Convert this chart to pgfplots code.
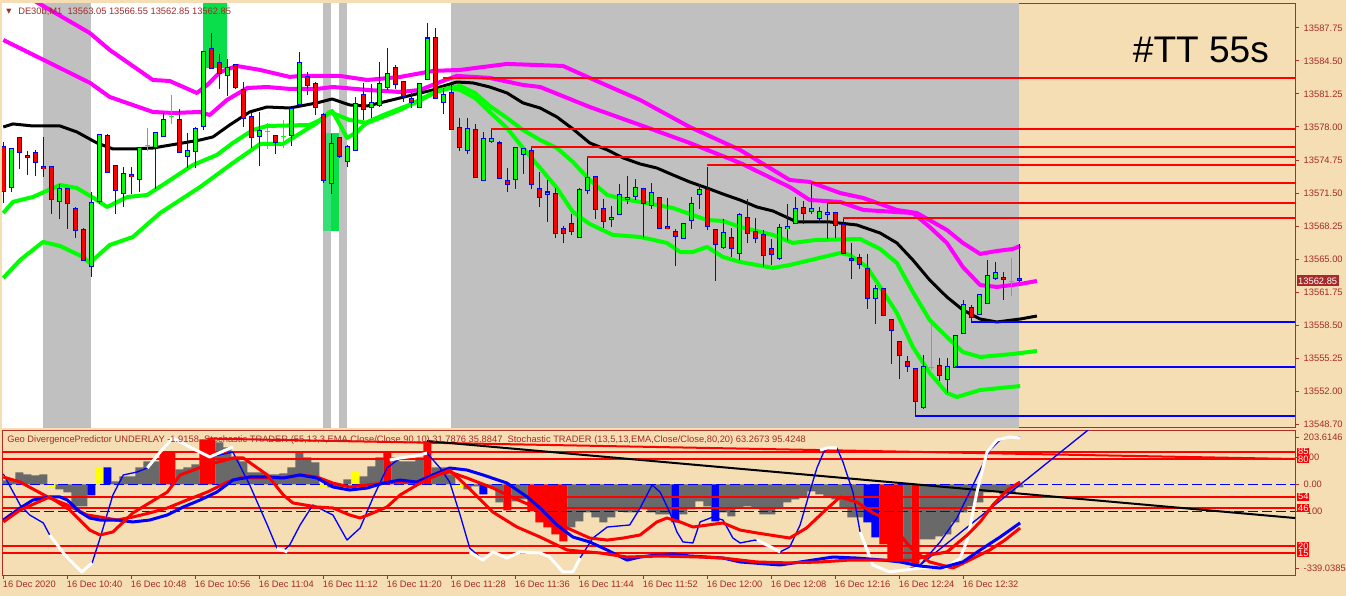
\documentclass[border=0pt]{standalone}
\usepackage{fontspec}
\setmainfont{Liberation Sans}
\newfontfamily\dejavu{DejaVu Sans}
\usepackage{pgfplots}
\pgfplotsset{compat=1.18}
\usepackage{pgfplotstable}
\definecolor{wheatc}{HTML}{F5DEB3}
\definecolor{sessgray}{HTML}{C0C0C0}
\definecolor{limec}{HTML}{00FF00}
\definecolor{mag}{HTML}{FF00FF}
\definecolor{hgray}{HTML}{696969}
\definecolor{framec}{RGB}{175,45,35}
\definecolor{labc}{RGB}{165,42,42}
\definecolor{zoneg}{HTML}{0ADE4B}
\definecolor{zoneg2}{HTML}{38DF78}
\definecolor{yelc}{HTML}{FFFF00}
\definecolor{bluec}{HTML}{0000FF}
\definecolor{redc}{HTML}{FF0000}

\pgfplotstableread{
i o h l c
0 13576.23 13576.53 13570.52 13571.80
1 13572.19 13576.03 13571.70 13576.03
2 13577.02 13577.02 13573.96 13575.54
3 13575.25 13575.84 13573.47 13575.05
4 13575.54 13575.84 13573.28 13574.56
5 13574.26 13577.02 13573.08 13574.06
6 13574.26 13574.26 13569.53 13571.01
7 13570.81 13572.49 13569.04 13572.09
8 13571.99 13572.09 13568.06 13570.52
9 13570.02 13570.12 13567.07 13567.86
10 13568.06 13568.15 13564.90 13565.00
11 13564.21 13571.60 13563.23 13570.52
12 13570.81 13577.41 13570.52 13577.41
13 13577.21 13577.41 13573.57 13573.57
14 13574.26 13574.26 13569.53 13571.80
15 13571.50 13574.06 13570.12 13573.47
16 13573.28 13574.16 13571.50 13573.08
17 13572.88 13576.03 13571.60 13576.03
18 13576.13 13578.00 13575.74 13576.13
19 13576.03 13577.51 13571.99 13577.51
20 13577.02 13579.38 13577.02 13578.79
21 13578.99 13581.25 13578.40 13578.99
22 13578.79 13579.87 13575.54 13575.54
23 13575.25 13577.51 13574.06 13575.84
24 13575.54 13578.10 13574.06 13577.81
25 13578.00 13585.39 13577.71 13585.39
26 13585.78 13587.26 13583.81 13583.81
27 13584.50 13585.29 13581.84 13583.42
28 13583.22 13584.80 13581.15 13584.01
29 13584.21 13584.21 13581.84 13581.94
30 13581.84 13582.43 13578.00 13578.99
31 13579.18 13579.48 13576.03 13577.02
32 13577.21 13579.48 13574.16 13577.81
33 13577.51 13578.40 13575.84 13577.51
34 13577.21 13577.21 13575.44 13576.53
35 13577.02 13578.79 13576.03 13577.02
36 13577.21 13579.97 13576.23 13579.87
37 13580.27 13585.49 13580.27 13584.40
38 13582.93 13583.52 13581.25 13582.04
39 13582.24 13582.43 13579.18 13579.97
40 13579.38 13579.38 13572.49 13572.88
41 13572.49 13577.41 13571.50 13576.43
42 13577.02 13577.02 13575.05 13575.15
43 13574.56 13576.23 13574.06 13576.03
44 13575.84 13581.06 13575.84 13580.46
45 13581.25 13582.43 13578.79 13579.78
46 13579.97 13582.34 13578.99 13580.46
47 13580.27 13584.40 13579.97 13582.43
48 13582.04 13585.78 13581.65 13583.42
49 13583.91 13584.21 13581.84 13582.24
50 13582.43 13582.43 13580.46 13580.96
51 13580.86 13581.45 13579.97 13580.46
52 13579.97 13582.43 13579.97 13582.43
53 13582.83 13588.25 13582.83 13586.96
54 13586.87 13587.85 13580.86 13580.86
55 13580.46 13581.94 13579.38 13581.25
56 13581.45 13582.43 13577.81 13577.81
57 13578.00 13578.99 13575.74 13576.03
58 13575.84 13578.99 13575.44 13578.00
59 13577.81 13578.40 13573.08 13573.08
60 13572.88 13577.61 13572.88 13577.02
61 13576.53 13577.81 13576.53 13576.82
62 13576.53 13576.82 13573.08 13573.08
63 13572.88 13574.06 13571.70 13572.49
64 13572.88 13576.03 13571.99 13576.03
65 13575.44 13576.03 13573.47 13576.03
66 13575.84 13576.03 13571.99 13572.49
67 13571.99 13573.57 13570.12 13571.01
68 13571.50 13572.88 13568.75 13571.70
69 13571.50 13571.99 13567.07 13567.56
70 13568.06 13568.25 13566.58 13567.56
71 13568.55 13569.53 13567.47 13567.76
72 13567.27 13571.99 13567.07 13571.99
73 13571.80 13575.05 13571.50 13573.08
74 13573.18 13573.18 13569.14 13570.02
75 13570.12 13571.01 13568.15 13568.84
76 13569.04 13570.22 13568.15 13569.24
77 13569.53 13572.49 13569.53 13571.50
78 13571.01 13573.18 13570.42 13571.21
79 13571.21 13572.88 13570.81 13572.09
80 13571.99 13571.99 13567.07 13570.52
81 13570.22 13572.49 13569.93 13571.50
82 13571.11 13571.11 13568.06 13568.06
83 13568.25 13571.01 13568.06 13568.06
84 13567.76 13568.06 13564.41 13567.27
85 13567.07 13568.55 13567.07 13568.55
86 13568.84 13571.21 13568.06 13570.52
87 13571.50 13572.49 13570.02 13571.99
88 13571.80 13574.26 13568.06 13568.15
89 13568.06 13568.06 13562.93 13566.58
90 13566.28 13569.04 13566.09 13567.76
91 13567.17 13568.06 13565.20 13566.09
92 13565.69 13569.53 13564.90 13569.53
93 13569.14 13571.01 13566.68 13567.56
94 13567.76 13569.14 13566.68 13567.07
95 13567.56 13567.86 13564.21 13565.50
96 13566.09 13567.07 13564.51 13565.50
97 13565.10 13568.55 13565.00 13568.15
98 13568.06 13570.52 13566.87 13568.25
99 13568.55 13571.21 13568.55 13570.02
100 13570.12 13570.91 13568.65 13569.53
101 13569.73 13572.49 13569.53 13570.02
102 13569.04 13570.12 13568.55 13569.73
103 13569.53 13570.52 13567.07 13569.73
104 13569.53 13569.53 13567.07 13568.25
105 13568.55 13569.04 13565.69 13565.69
106 13565.20 13566.58 13563.03 13565.00
107 13565.20 13565.50 13564.02 13564.51
108 13564.21 13565.50 13560.08 13561.26
109 13561.06 13562.54 13558.70 13562.05
110 13562.25 13562.25 13559.59 13559.59
111 13559.09 13559.09 13554.76 13558.01
112 13556.93 13556.93 13553.28 13555.55
113 13555.06 13555.55 13553.97 13554.56
114 13554.27 13554.27 13549.54 13551.02
115 13550.53 13555.55 13550.23 13554.56
116 13554.27 13558.80 13554.17 13554.27
117 13554.56 13555.25 13552.99 13553.58
118 13553.28 13555.25 13551.81 13554.56
119 13554.37 13557.52 13554.37 13557.52
120 13557.71 13561.06 13557.71 13560.57
121 13560.28 13560.57 13558.80 13559.29
122 13559.59 13561.56 13559.59 13561.56
123 13560.77 13565.00 13560.77 13563.53
124 13563.23 13564.81 13563.03 13563.82
125 13563.23 13563.82 13561.06 13563.03
126 13562.74 13565.20 13561.46 13562.74
127 13563.05 13566.55 13562.85 13562.85
}\candles

\begin{document}
\begin{tikzpicture}
\path[use as bounding box, fill=wheatc] (0,0) rectangle (1009.5pt,-447pt);

\pgfplotsset{mt/.style={scale only axis, width=969.75pt, xmin=-0.1625, xmax=161.4625,
  clip mode=individual,
  axis line style={draw=framec, line width=0.75pt},
  tick style={draw=framec, line width=0.75pt},
  tick align=outside, major tick length=3pt,
  scaled y ticks=false, scaled x ticks=false,
  ticklabel style={font=\fontsize{7}{8}\selectfont, text=labc},
  /pgf/number format/assume math mode=true},
  eb/.style={draw=none, mark=none, error bars/.cd, y dir=both, y explicit, error mark=none, error bar style={#1}}}

% ================= upper price panel =================
\begin{axis}[mt, at={(1.5pt,-2.25pt)}, anchor=north west, height=318.75pt,
  ymin=13548.36, ymax=13590.21, xtick=\empty,
  ytick={13548.70,13552.00,13555.25,13558.50,13561.75,13565.00,13568.25,13571.50,13574.75,13578.00,13581.25,13584.50,13587.75},
  ytick pos=right, yticklabel pos=right,
  yticklabel style={/pgf/number format/fixed, /pgf/number format/fixed zerofill, /pgf/number format/precision=2, /pgf/number format/1000 sep={}},
  axis background/.style={fill=wheatc}]
% session backgrounds
\addplot[fill=white, draw=none] coordinates {(-0.1625,13548.36) (-0.1625,13590.21) (55.96,13590.21) (55.96,13548.36)} -- cycle;
\addplot[fill=sessgray, draw=none] coordinates {(55.96,13548.36) (55.96,13590.21) (126.96,13590.21) (126.96,13548.36)} -- cycle;
\addplot[fill=sessgray, draw=none] coordinates {(4.96,13548.36) (4.96,13590.21) (10.96,13590.21) (10.96,13548.36)} -- cycle;
\addplot[fill=sessgray, draw=none] coordinates {(39.96,13548.36) (39.96,13590.21) (40.96,13590.21) (40.96,13548.36)} -- cycle;
\addplot[fill=sessgray, draw=none] coordinates {(41.96,13548.36) (41.96,13590.21) (42.96,13590.21) (42.96,13548.36)} -- cycle;
\addplot[fill=zoneg, draw=none] coordinates {(24.96,13583.81) (24.96,13590.21) (27.96,13590.21) (27.96,13583.81)} -- cycle;
\addplot[fill=zoneg2, draw=none] coordinates {(39.96,13567.76) (39.96,13577.41) (40.96,13577.41) (40.96,13567.76)} -- cycle;
\addplot[fill=zoneg, draw=none] coordinates {(40.96,13567.76) (40.96,13577.41) (41.96,13577.41) (41.96,13567.76)} -- cycle;

% magenta outer
\addplot[mag, line width=3pt, line join=round] coordinates {
(0,13592.18) (3.7,13590.51) (10.8,13587.26) (13.3,13585.59) (18.7,13582.63) (20.8,13582.53) (24.2,13581.35) (25.5,13582.14) (27.1,13583.42) (29.2,13584.01) (32.1,13583.62) (35.8,13582.93) (37.1,13583.03) (42.1,13583.03) (45.5,13582.63) (49.6,13582.93) (53.7,13583.52) (57.1,13583.62) (62.97,13584.21) (69.97,13584.01) (73.3,13582.83) (79.6,13580.66) (85.8,13578.00) (92.1,13575.74) (98.3,13572.78) (100.8,13572.59) (104.6,13571.50) (107.5,13571.01) (111.7,13569.83) (114.2,13569.53) (117.95,13567.86) (119.95,13566.58) (122.1,13565.50) (124.2,13565.79) (126.2,13565.99) (127.1,13566.28)};
% magenta inner
\addplot[mag, line width=3pt, line join=round] coordinates {
(0,13586.57) (10.85,13582.34) (13.3,13580.96) (18.7,13579.48) (21.2,13579.38) (24.6,13579.48) (25.8,13579.18) (27.95,13580.66) (30.5,13581.84) (32.96,13581.94) (35.8,13581.75) (39.2,13581.75) (41.2,13581.94) (45.5,13581.65) (49.6,13581.45) (52.1,13581.65) (54.6,13582.43) (56.7,13583.03) (60.8,13582.83) (64.96,13582.14) (67.1,13581.94) (73.3,13579.97) (79.6,13578.20) (85.8,13576.43) (92.1,13574.46) (98.3,13572.09) (100.8,13570.81) (104.6,13570.62) (107.5,13569.83) (113.7,13569.53) (115.8,13568.15) (117.95,13566.58) (119.95,13564.21) (122.1,13562.44) (124.2,13562.25) (127.1,13562.54) (129.2,13562.84)};
% black
\addplot[black, line width=2.25pt, line join=round] coordinates {
(0,13578.00) (1.2,13578.30) (3.7,13578.10) (7.1,13578.10) (9.2,13577.51) (11.7,13576.43) (13.7,13575.84) (16.2,13575.84) (18.7,13575.93) (21.7,13576.33) (24.6,13576.72) (26.2,13577.02) (28.3,13578.20) (30.8,13579.48) (32.96,13579.97) (35.8,13579.87) (39.2,13580.37) (41.1,13580.76) (43.3,13580.17) (45.5,13580.07) (49.6,13580.86) (53.7,13581.65) (54.6,13581.94) (56.7,13582.43) (58.7,13582.34) (60.8,13581.94) (62.97,13581.35) (64.96,13580.37) (67.1,13579.87) (69.2,13578.99) (71.2,13577.81) (73.3,13576.43) (75.5,13575.74) (77.5,13574.95) (79.6,13574.36) (81.7,13573.96) (83.7,13573.28) (85.8,13572.59) (87.96,13571.99) (89.96,13571.40) (92.1,13570.81) (94.2,13570.12) (96.2,13569.73) (99.2,13568.65) (103.3,13568.65) (106.7,13568.35) (109.6,13567.56) (111.7,13566.58) (113.7,13564.90) (115.8,13562.93) (117.95,13561.26) (119.95,13559.98) (122.1,13559.09) (124.2,13558.80) (127.1,13559.09) (129.2,13559.39)};
% green inner
\addplot[limec, line width=3pt, line join=round] coordinates {
(0,13569.53) (1.2,13570.62) (3.7,13571.11) (7.1,13572.29) (9.2,13571.99) (11.7,13570.81) (12.96,13570.12) (15.5,13571.11) (17.96,13571.30) (20.5,13572.59) (23.7,13574.26) (26.7,13575.25) (28.7,13576.43) (31.2,13577.71) (32.96,13578.10) (38.3,13578.20) (39.6,13578.69) (41.1,13579.58) (42.1,13578.20) (42.96,13576.92) (44.2,13577.51) (45.5,13578.49) (47.5,13579.18) (51.7,13580.46) (54.6,13581.65) (57.1,13582.04) (58.96,13581.35) (60.8,13580.07) (62.96,13578.89) (64.96,13577.71) (67.1,13576.72) (69.2,13575.93) (71.2,13574.56) (73.3,13572.78) (75.5,13571.30) (77.5,13570.91) (79.6,13570.62) (83.7,13570.02) (87.96,13568.84) (89.96,13568.75) (92.1,13568.15) (96.2,13567.37) (98.7,13566.58) (101.5,13566.87) (107.1,13566.97) (109.6,13565.99) (111.7,13564.61) (113.7,13561.75) (115.8,13558.99) (117.95,13557.32) (119.95,13555.84) (122.1,13555.35) (126.2,13555.65) (129.2,13555.94)};
% green outer
\addplot[limec, line width=3pt, line join=round] coordinates {
(0,13563.13) (2.1,13564.90) (4.96,13566.68) (7.1,13566.28) (9.96,13565.20) (10.8,13564.61) (13.3,13566.38) (16.2,13567.17) (19.6,13569.53) (24.6,13572.09) (28.7,13574.46) (32.1,13576.33) (34.96,13576.33) (39.2,13578.40) (40.8,13579.48) (43.3,13578.69) (45.5,13578.40) (49.6,13579.68) (53.7,13581.35) (55.8,13581.84) (57.1,13581.65) (58.96,13580.86) (60.8,13579.48) (62.96,13577.90) (64.96,13575.93) (67.1,13573.96) (69.2,13571.99) (71.2,13569.63) (73.3,13568.45) (76.2,13567.37) (79.6,13567.17) (82.96,13566.58) (84.6,13565.69) (86.2,13565.69) (87.96,13566.19) (89.96,13565.20) (92.1,13564.71) (96.2,13564.12) (98.3,13564.41) (104.6,13565.59) (105.8,13565.40) (107.96,13564.21) (109.6,13562.25) (111.7,13559.68) (113.7,13556.33) (115.8,13553.78) (117.95,13551.81) (119.2,13551.41) (122.1,13552.10) (127.1,13552.49)};

% candles: wicks
\addplot[eb={draw=bluec, line width=0.75pt}]
  table[x=i, y expr={abs(\thisrow{c}-\thisrow{o})>0.001 ? (\thisrow{h}+\thisrow{l})/2 : nan}, y error expr={(\thisrow{h}-\thisrow{l})/2}] {\candles};
\addplot[eb={draw=limec, line width=0.75pt}]
  table[x=i, y expr={abs(\thisrow{c}-\thisrow{o})<0.001 ? (\thisrow{h}+\thisrow{l})/2 : nan}, y error expr={(\thisrow{h}-\thisrow{l})/2}] {\candles};
\addplot[only marks, mark=-, mark size=1.9pt, limec, mark options={line width=0.75pt, draw=limec}]
  table[x=i, y expr={abs(\thisrow{c}-\thisrow{o})<0.001 ? \thisrow{o} : nan}] {\candles};
% bodies outline
\addplot[eb={draw=bluec, line width=3.75pt}]
  table[x=i, y expr={abs(\thisrow{c}-\thisrow{o})>0.001 ? (\thisrow{o}+\thisrow{c})/2 : nan}, y error expr={abs(\thisrow{c}-\thisrow{o})/2+0.05}] {\candles};
% bull fill
\addplot[eb={draw=limec, line width=2.25pt}]
  table[x=i, y expr={\thisrow{c}-\thisrow{o}>0.001 ? (\thisrow{o}+\thisrow{c})/2 : nan}, y error expr={max(abs(\thisrow{c}-\thisrow{o})/2-0.05,0)}] {\candles};
% bear fill
\addplot[eb={draw=redc, line width=2.25pt}]
  table[x=i, y expr={\thisrow{o}-\thisrow{c}>0.001 ? (\thisrow{o}+\thisrow{c})/2 : nan}, y error expr={max(abs(\thisrow{c}-\thisrow{o})/2-0.05,0)}] {\candles};

% horizontal levels
\addplot[redc, line width=1.5pt] coordinates {(54.9,13582.83) (161.5,13582.83)};
\addplot[redc, line width=1.5pt] coordinates {(61,13577.81) (161.5,13577.81)};
\addplot[redc, line width=1.5pt] coordinates {(66,13576.03) (161.5,13576.03)};
\addplot[redc, line width=1.5pt] coordinates {(73,13575.05) (161.5,13575.05)};
\addplot[redc, line width=1.5pt] coordinates {(88,13574.26) (161.5,13574.26)};
\addplot[redc, line width=1.5pt] coordinates {(101,13572.49) (161.5,13572.49)};
\addplot[redc, line width=1.5pt] coordinates {(103,13570.52) (161.5,13570.52)};
\addplot[redc, line width=1.5pt] coordinates {(105,13569.04) (161.5,13569.04)};
\addplot[bluec, line width=1.5pt] coordinates {(121,13558.80) (161.5,13558.80)};
\addplot[bluec, line width=1.5pt] coordinates {(119,13554.37) (161.5,13554.37)};
\addplot[bluec, line width=1.5pt] coordinates {(114,13549.54) (161.5,13549.54)};

\node[anchor=base, font=\fontsize{27.8}{30}\selectfont, text=black, inner sep=0pt] at (axis cs:149.7,13584.40) {\#TT 55s};
\node[anchor=west, fill=labc, text=white, font=\fontsize{7}{8}\selectfont, inner xsep=1.2pt, inner ysep=1.6pt, xshift=1pt] at (axis cs:161.4625,13562.85) {13562.85};
\end{axis}

% ================= lower panel: histogram axis =================
\begin{axis}[mt, at={(1.5pt,-322.5pt)}, anchor=north west, height=108.75pt,
  ymin=-339.0385, ymax=203.6146,
  xtick={0,8,...,120},
  xticklabels={16 Dec 2020,16 Dec 10:40,16 Dec 10:48,16 Dec 10:56,16 Dec 11:04,16 Dec 11:12,16 Dec 11:20,16 Dec 11:28,16 Dec 11:36,16 Dec 11:44,16 Dec 11:52,16 Dec 12:00,16 Dec 12:08,16 Dec 12:16,16 Dec 12:24,16 Dec 12:32},
  xtick pos=bottom, xticklabel style={anchor=north west, xshift=-1.5pt, inner sep=1pt},
  ytick={-312.9,-100,0,100,177.4}, yticklabels={-339.0385,-100,0.00,100,203.6146},
  ytick pos=right, yticklabel pos=right]
\addplot[ybar, bar width=1, bar shift=0pt, fill=hgray, draw=none] coordinates {
(0,15.0) (1,18.7) (2,44.9) (3,37.4) (4,33.7) (5,37.4) (7,-18.7) (8,-29.9) (9,-82.3) (10,-82.3) (14,11.2) (15,29.9) (16,29.9) (17,63.6) (18,86.0) (19,86.0) (22,56.1) (23,63.6) (24,74.8) (27,157.1) (28,138.4) (29,101.0) (30,86.0) (31,44.9) (32,44.9) (33,37.4) (34,37.4) (35,41.1) (36,63.6) (37,119.7) (38,101.0) (39,82.3) (41,-11.2) (42,-11.2) (43,18.7) (45,29.9) (46,67.3) (47,101.0) (49,101.0) (50,86.0) (51,86.0) (52,101.0) (54,63.6) (55,63.6) (56,37.4) (58,-18.7) (59,-7.5) (61,-11.2) (62,-67.3) (64,-63.6) (65,-56.1) (71,-160.8) (72,-138.4) (73,-104.7) (74,-123.4) (75,-142.1) (76,-123.4) (77,-101.0) (78,-104.7) (79,-104.7) (80,-93.5) (81,-104.7) (82,-112.2) (83,-112.2) (85,-112.2) (86,-93.5) (87,-63.6) (88,-82.3) (90,-104.7) (91,-119.7) (92,-86.0) (93,-82.3) (94,-86.0) (95,-112.2) (96,-112.2) (97,-86.0) (98,-67.3) (99,-56.1) (100,-44.9) (101,-26.2) (102,-37.4) (103,-48.6) (104,-56.1) (105,-86.0) (106,-123.4) (107,-123.4) (113,-291.7) (115,-205.7) (116,-205.7) (117,-194.5) (118,-187.0) (119,-142.1) (120,-104.7) (121,-82.3) (122,-67.3) (123,-29.9) (124,-26.2) (125,-37.4) (126,-29.9) (127,-11.2)};
\addplot[ybar, bar width=1, bar shift=0pt, fill=redc, draw=none] coordinates {
(20,119.7) (21,119.7) (25,168.3) (26,168.3) (48,123.4) (53,160.8) (63,-97.2) (66,-101.0) (67,-142.1) (68,-160.8) (69,-187.0) (70,-213.2) (110,-224.4) (111,-288.0) (112,-288.0) (114,-306.7)};
\addplot[ybar, bar width=1, bar shift=0pt, fill=bluec, draw=none] coordinates {
(11,-41.1) (13,63.6) (60,-37.4) (84,-142.1) (89,-138.4) (108,-142.1) (109,-198.2)};
\addplot[ybar, bar width=1, bar shift=0pt, fill=yelc, draw=none] coordinates {
(6,-11.2) (12,63.6) (40,-11.2) (44,48.6) (57,-11.2)};
\addplot[bluec, line width=0.75pt, dash pattern=on 7.5pt off 3pt] coordinates {(-0.1625,0) (161.4625,0)};
\addplot[bluec, line width=0.75pt, dash pattern=on 7.5pt off 3pt] coordinates {(-0.1625,-100) (161.4625,-100)};
\end{axis}

% ================= lower panel: stochastic axis =================
\begin{axis}[mt, at={(1.5pt,-322.5pt)}, anchor=north west, height=108.75pt,
  ymin=0, ymax=100, hide axis]
\addplot[redc, line width=1.5pt] coordinates {(-0.1625,85) (161.4625,85)};
\addplot[redc, line width=1.5pt] coordinates {(-0.1625,80) (161.4625,80)};
\addplot[redc, line width=1.5pt] coordinates {(-0.1625,54) (161.4625,54)};
\addplot[redc, line width=1.5pt] coordinates {(-0.1625,46) (161.4625,46)};
\addplot[redc, line width=1.5pt] coordinates {(-0.1625,20) (161.4625,20)};
\addplot[redc, line width=1.5pt] coordinates {(-0.1625,15) (161.4625,15)};
% slanted trend lines
\addplot[redc, line width=1.5pt] coordinates {(25.5,94.1) (161.46,80.0)};
\addplot[black, line width=1.5pt] coordinates {(52.96,92.4) (161.46,39.3)};
\addplot[bluec, line width=1pt] coordinates {(114.6,6.9) (135.6,100)};
% thin blue fast line
\addplot[bluec, line width=1pt, line join=round] coordinates {
(0,69.7) (2.1,48.3) (3.3,41.4) (5.0,35.9) (5.8,27.6) (7.7,13.8) (9.8,2.1) (11.1,8.3) (12.1,25.5) (13.7,55.2) (15.0,69.0) (16.7,71.0) (18.0,73.8) (19.6,84.8) (21.2,94.5) (23.3,88.3) (25.8,81.4) (28.7,84.8) (30.8,62.1) (33.0,34.5) (34.2,18.6) (35.0,16.6) (35.8,20.7) (37.1,34.5) (38.7,48.3) (39.96,44.8) (41.2,41.4) (42.96,24.1) (44.6,32.4) (46.2,53.1) (47.96,73.8) (49.6,80.7) (51.5,82.1) (52.96,84.1) (54.6,73.8) (55.8,64.1) (57.1,41.4) (58.3,18.6) (59.96,10.3) (61.2,15.9) (62.96,11.7) (64.6,15.9) (67.1,15.2) (68.3,12.4) (69.96,2.1) (71.2,2.1) (72.1,11.7) (73.7,25.5) (75.5,33.1) (78.3,34.5) (79.6,46.2) (81.1,62.1) (82.1,57.2) (83.3,43.4) (84.2,29.7) (84.96,22.8) (86.2,22.1) (87.1,36.6) (88.7,40.0) (89.96,37.9) (91.2,25.5) (92.1,22.1) (93.96,24.1) (96.2,18.6) (97.1,15.9) (98.3,19.3) (99.6,34.5) (100.8,57.2) (101.7,73.8) (102.5,84.1) (102.96,87.6) (104.2,87.6) (104.96,77.9) (106.2,57.2) (107.1,29.7) (108.7,6.9) (110.8,2.1) (112.7,3.4) (114.6,6.9) (117.1,22.8) (119.2,39.3) (120.8,57.2) (122.1,72.4) (123.3,86.2) (124.6,93.1) (125.8,95.2) (127.1,95.2)};
% white overlay segments
\addplot[white, line width=2.25pt, line join=round] coordinates {(5.8,27.6) (7.7,13.8) (9.8,2.1) (11.1,8.3)};
\addplot[white, line width=2.25pt, line join=round] coordinates {(18.0,73.8) (19.6,84.8) (21.2,94.5) (23.3,88.3) (25.8,81.4) (28.7,88.3)};
\addplot[white, line width=2.25pt, line join=round] coordinates {(34.2,18.6) (35.5,15.9)};
\addplot[white, line width=2.25pt, line join=round] coordinates {(48.3,79.3) (49.6,80.7) (51.5,82.1) (52.96,84.1)};
\addplot[white, line width=2.25pt, line join=round] coordinates {(58.3,15.9) (59.96,10.3) (61.2,15.9) (62.96,11.7) (64.6,15.9) (67.1,15.2) (68.3,12.4) (69.96,2.1) (71.2,2.1) (72.1,11.7)};
\addplot[white, line width=2.25pt, line join=round] coordinates {(94.2,24.1) (96.2,18.6) (97.1,15.9)};
\addplot[white, line width=2.25pt, line join=round] coordinates {(94.6,8.3) (98.3,7.6) (100.4,8.3)};
\addplot[white, line width=2.25pt, line join=round] coordinates {(102.1,86.2) (102.96,87.6) (104.2,87.6)};
\addplot[white, line width=2.25pt, line join=round] coordinates {(107.1,29.7) (108.7,6.9) (110.8,2.1) (114.6,4.8) (117.96,5.5) (119.6,11.7) (120.5,24.1) (121.7,57.2) (122.96,84.8) (124.2,93.1) (125.8,95.2) (127.1,94.5)};
% thick red (slow) A
\addplot[redc, line width=2.25pt, line join=round] coordinates {
(0,67.6) (2.1,64.1) (5.8,53.1) (8.0,48.3) (10.5,41.4) (12.1,40.0) (14.2,37.9) (16.2,40.0) (18.3,42.8) (20.5,46.2) (22.96,51.7) (25.5,57.2) (28.0,64.1) (29.6,66.9) (33.0,66.9) (35.0,66.9) (37.1,69.0) (39.2,67.6) (41.2,63.4) (43.3,60.7) (45.5,62.1) (47.5,63.4) (49.6,64.1) (51.7,64.1) (53.7,69.0) (55.8,71.0) (57.96,66.9) (61.2,60.0) (62.96,55.2) (65.8,48.3) (68.3,40.0) (70.5,32.4) (73.3,25.5) (75.5,24.1) (77.5,25.5) (79.6,27.6) (81.7,36.6) (82.96,39.3) (84.6,36.6) (86.2,33.1) (89.96,35.9) (92.1,31.0) (94.2,29.0) (98.3,25.5) (100.4,32.4) (102.5,43.4) (104.6,53.8) (106.7,50.3) (108.7,42.8) (110.8,37.9) (112.1,27.6) (113.7,17.2) (115.8,9.0) (118.7,4.8) (120.8,10.3) (123.3,17.2) (125.2,24.1) (127.1,32.4)};
% thick blue (slow) A
\addplot[bluec, line width=2.25pt, line join=round] coordinates {
(0,37.9) (2.1,46.2) (3.7,51.7) (5.8,53.8) (7.1,53.8) (8.0,51.7) (9.6,43.4) (10.8,39.3) (12.1,37.9) (14.2,37.9) (16.2,36.6) (18.3,37.9) (20.5,41.4) (22.5,46.9) (24.6,51.7) (26.7,57.2) (28.7,65.5) (30.8,67.6) (33.0,67.6) (35.0,66.9) (37.1,69.0) (39.2,66.9) (41.2,60.7) (43.3,58.6) (45.5,60.0) (47.5,63.4) (49.6,65.5) (51.7,64.1) (53.7,69.0) (55.8,73.8) (57.96,72.4) (59.96,69.0) (62.96,63.4) (65.5,53.8) (67.1,46.2) (69.2,34.5) (71.2,26.2) (73.3,22.8) (75.5,17.2) (77.96,10.3) (79.6,12.4) (81.7,13.8) (83.7,14.5) (85.8,13.1) (87.96,12.4) (89.96,11.7) (92.1,9.0) (97.1,6.9) (101.2,10.3) (103.7,12.4) (106.7,11.7) (109.96,10.3) (112.1,9.0) (114.6,6.2) (117.1,4.8) (119.95,9.0) (122.1,17.2) (124.6,26.2) (127.1,35.9)};
% thick red (fast) B
\addplot[redc, line width=2.25pt, line join=round] coordinates {
(0,36.6) (2.1,44.8) (5.8,53.8) (8.3,44.8) (10.8,31.0) (12.1,27.6) (13.7,29.7) (16.2,42.8) (20.5,57.2) (22.1,69.0) (25.5,75.9) (28.7,80.7) (30.0,80.7) (33.0,69.0) (35.0,55.2) (36.2,49.7) (39.2,46.9) (41.2,46.2) (43.3,41.4) (44.6,39.3) (46.2,42.8) (47.96,46.9) (49.6,55.2) (51.7,62.1) (53.7,67.6) (55.8,72.4) (58.7,57.2) (61.2,43.4) (64.2,33.1) (67.1,26.2) (70.5,17.2) (74.6,15.2) (77.96,12.4) (82.1,13.1) (87.1,12.4) (89.96,11.7) (94.2,9.0) (98.3,8.3) (102.1,9.0) (105.8,10.3) (109.6,10.3) (113.7,10.3) (115.8,13.8) (117.96,15.9) (120.5,27.6) (122.1,36.6) (123.7,48.3) (125.5,58.6) (127.1,64.1)};
% level labels
\foreach \lv in {85,80,54,46,20,15} {
  \edef\temp{\noexpand\node[anchor=west, fill=redc, text=white, font=\noexpand\fontsize{7}{8}\noexpand\selectfont, inner xsep=0.6pt, inner ysep=0.6pt, xshift=1.5pt] at (axis cs:161.4625,\lv) {\lv};}
  \temp
}
\end{axis}

% header texts
\begin{scope}[x=0.75pt, y=-0.75pt]
\node[anchor=base west, inner sep=0pt, text=labc, font=\dejavu\fontsize{5}{6}\selectfont] at (6,13) {▼};
\node[anchor=base west, inner sep=0pt, text=labc, font=\fontsize{7}{8}\selectfont] at (18,14) {DE30b,M1\ \ 13563.05 13566.55 13562.85 13562.85};
\node[anchor=base west, inner sep=0pt, text=labc, font=\fontsize{7}{8}\selectfont] at (7,442) {Geo DivergencePredictor UNDERLAY -1.9158\ \ Stochastic TRADER (55,13,3,EMA,Close/Close,90,10) 31.7876 35.8847\ \ Stochastic TRADER (13,5,13,EMA,Close/Close,80,20) 63.2673 95.4248};
\end{scope}
\end{tikzpicture}
\end{document}
